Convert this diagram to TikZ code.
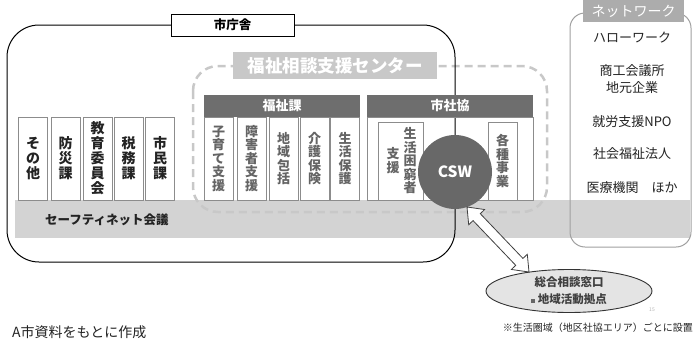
\documentclass[tikz,border=0pt]{standalone}
\usepackage{fontspec}
\setmainfont{Noto Sans CJK JP}
\usetikzlibrary{calc,shapes.geometric}
\definecolor{bandc}{RGB}{211,211,211}
\definecolor{lblc}{RGB}{200,200,200}
\definecolor{netlbl}{RGB}{172,172,172}
\definecolor{hdrc}{RGB}{110,110,110}
\definecolor{subtxt}{RGB}{100,100,100}
\definecolor{boxln}{RGB}{140,140,140}
\definecolor{cswc}{RGB}{104,104,104}
\definecolor{netln}{RGB}{160,160,160}
\definecolor{elfill}{RGB}{228,228,228}
\definecolor{txtc}{RGB}{35,35,35}
\begin{document}
\begin{tikzpicture}[x=1pt,y=-1pt,
  dept/.style={draw=boxln, line width=0.8pt, fill=white, minimum width=29pt, minimum height=83pt, inner sep=0pt, align=center, text=txtc, font=\fontsize{14}{15}\selectfont\bfseries},
  subbox/.style={draw=boxln, line width=0.8pt, fill=white, minimum width=29pt, minimum height=83pt, inner sep=0pt, align=center, text=subtxt, font=\fontsize{13}{13.5}\selectfont\bfseries},
  hdr/.style={fill=hdrc, text=white, inner sep=0pt, minimum height=22pt, font=\fontsize{13}{13}\selectfont\bfseries},
  nettxt/.style={text=txtc, align=center, inner sep=0pt, font=\fontsize{13}{17.5}\selectfont},
  biglbl/.style={fill=lblc, text=white, inner sep=0pt, font=\fontsize{17.5}{17.5}\selectfont\bfseries}
]
\useasboundingbox (0,0) rectangle (694,343);
% band
\fill[bandc] (15,200) rectangle (690,238);
\node[anchor=west, inner sep=0pt, text=txtc, font=\fontsize{12.5}{12.5}\selectfont\bfseries] (sn) at (45,220) {セーフティネット会議};
% network box
\draw[netln, line width=1pt, rounded corners=15pt] (570,13) rectangle (691,247);
\node[fill=netlbl, text=white, inner sep=0pt, minimum width=101pt, minimum height=22pt, font=\fontsize{14}{14}\selectfont] (netl) at (633.5,11) {ネットワーク};
\node[nettxt] (n1) at (632,38) {ハローワーク};
\node[nettxt] (n2) at (632,79) {商工会議所\\地元企業};
\node[nettxt] (n3) at (632,122) {就労支援NPO};
\node[nettxt] (n4) at (632,154) {社会福祉法人};
\node[nettxt] (n5) at (632,188) {医療機関　ほか};
% dashed center box
\draw[lblc, line width=2.5pt, dash pattern=on 8pt off 5pt, rounded corners=25pt] (193,66) rectangle (547,212);
\node[biglbl, minimum width=204pt, minimum height=27pt] (ctr) at (335,65.5) {福祉相談支援センター};
% city hall box
\draw[black, line width=1pt, rounded corners=32pt] (7,25) rectangle (455,262);
\node[draw=black, line width=0.8pt, fill=white, minimum width=123pt, minimum height=22pt, inner sep=0pt, font=\fontsize{12.5}{12.5}\selectfont\bfseries] (city) at (232.5,25) {市庁舎};
% departments
\node[dept] (d1) at (33,158.5) {そ\\の\\他};
\node[dept] (d2) at (65.5,158.5) {防\\災\\課};
\node[dept] (d3) at (97.5,158.5) {教\\育\\委\\員\\会};
\node[dept] (d4) at (128.5,158.5) {税\\務\\課};
\node[dept] (d5) at (160,158.5) {市\\民\\課};
% welfare section
\node[hdr, minimum width=156pt] (fk) at (282,106) {福祉課};
\node[subbox] (f1) at (218.5,158.5) {子\\育\\て\\支\\援};
\node[subbox] (f2) at (251.5,158.5) {障\\害\\者\\支\\援};
\node[subbox] (f3) at (283.5,158.5) {地\\域\\包\\括};
\node[subbox] (f4) at (314.5,158.5) {介\\護\\保\\険};
\node[subbox] (f5) at (345,158.5) {生\\活\\保\\護};
% council section
\node[hdr, minimum width=166pt] (sk) at (450,106) {市社協};
\draw[boxln, line width=0.8pt] (367,117) rectangle (533,200);
\node[draw=boxln, line width=0.8pt, fill=white, minimum width=45pt, minimum height=78pt, inner sep=0pt] (s1) at (400.5,161) {};
\node[subbox, draw=none, fill=none, minimum width=0pt, minimum height=0pt, anchor=north] (s1a) at (410,127) {生\\活\\困\\窮\\者};
\node[subbox, draw=none, fill=none, minimum width=0pt, minimum height=0pt, anchor=north] (s1b) at (393,147) {支\\援};
\node[subbox, minimum height=78pt] (s2) at (502.5,161) {各\\種\\事\\業};
\node[circle, fill=cswc, minimum size=74pt, inner sep=0pt, text=white, font=\fontsize{15.5}{15.5}\selectfont\bfseries] (csw) at (455,172) {CSW};
% ellipse
\node[ellipse, draw=black!80, line width=0.9pt, fill=elfill, minimum width=166pt, minimum height=43pt, inner sep=0pt, align=center, text=black!75, font=\fontsize{11.5}{17}\selectfont\bfseries] (el) at (569,291) {総合相談窓口\\{\color{black!60}\rule[1pt]{4pt}{4pt}} 地域活動拠点};
% double block arrow between csw and ellipse
\coordinate (T1) at (467,207);
\coordinate (T2) at (529,272);
\coordinate (H1) at ($(T1)!14pt!(T2)$);
\coordinate (H2) at ($(T2)!14pt!(T1)$);
\draw[black!75, line width=0.8pt, fill=white, line join=miter]
  (T1) -- ($(H1)!11pt!90:(T2)$) -- ($(H1)!5pt!90:(T2)$) -- ($(H2)!5pt!-90:(T1)$) -- ($(H2)!11pt!-90:(T1)$) -- (T2)
  -- ($(H2)!11pt!90:(T1)$) -- ($(H2)!5pt!90:(T1)$) -- ($(H1)!5pt!-90:(T2)$) -- ($(H1)!11pt!-90:(T2)$) -- cycle;
% footers
\node[text=black!30, inner sep=0pt, font=\fontsize{5}{5}\selectfont] (pg) at (652,310) {15};
\node[anchor=west, inner sep=0pt, text=txtc, font=\fontsize{14}{14}\selectfont] (src) at (12,332) {A市資料をもとに作成};
\node[anchor=east, inner sep=0pt, text=txtc, font=\fontsize{10}{10}\selectfont] (note) at (693,328) {※生活圏域（地区社協エリア）ごとに設置};
\end{tikzpicture}
\end{document}
